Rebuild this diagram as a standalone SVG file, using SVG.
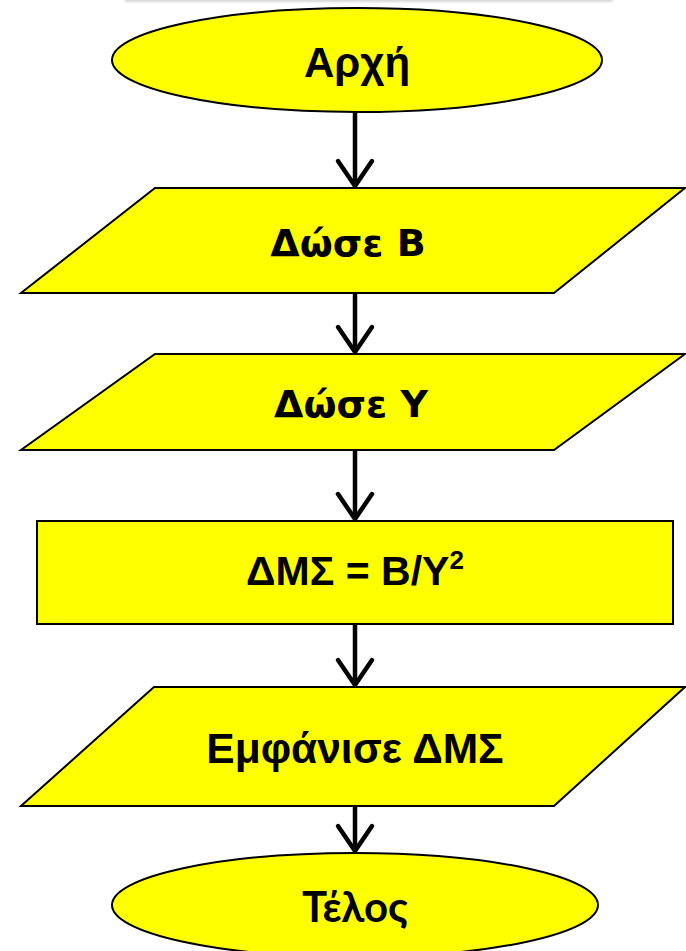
<svg xmlns="http://www.w3.org/2000/svg" width="686" height="951" viewBox="0 0 686 951">
  <style>
    .shape { fill: #ffff00; stroke: #000; stroke-width: 2; }
    .lbl { font-family: "Liberation Sans", Arial, sans-serif; font-weight: bold; fill: #000; text-anchor: middle; }
    .lbl-t { font-family: "DejaVu Sans", Tahoma, sans-serif; font-weight: bold; fill: #000; text-anchor: middle; }
    .lbl-c { font-family: Lato, "Open Sans", sans-serif; font-weight: bold; fill: #000; text-anchor: middle; }
    .flow { fill: none; stroke: #000; stroke-width: 4.5; marker-end: url(#chevron); }
  </style>
  <defs>
    <marker id="chevron" markerUnits="userSpaceOnUse" orient="auto" refX="0" refY="0" markerWidth="40" markerHeight="40" overflow="visible">
      <path d="M-25,-17 L0,0 L-25,17" fill="none" stroke="#000" stroke-width="4.5" stroke-linecap="round" stroke-linejoin="round"/>
    </marker>
    <filter id="soft" x="-5%" y="-200%" width="110%" height="500%">
      <feGaussianBlur stdDeviation="1"/>
    </filter>
  </defs>

  <rect width="686" height="951" fill="#fff"/>
  <!-- faint strip along the top edge -->
  <rect x="125" y="-2" width="488" height="4" fill="#d8d8d8" filter="url(#soft)"/>

  <g id="connectors">
    <line class="flow" x1="355" y1="113" x2="355" y2="186"/>
    <line class="flow" x1="355" y1="294" x2="355" y2="352"/>
    <line class="flow" x1="355" y1="451" x2="355" y2="519"/>
    <line class="flow" x1="355" y1="625" x2="355" y2="685"/>
    <line class="flow" x1="355" y1="807" x2="355" y2="851"/>
  </g>

  <g id="start">
    <ellipse class="shape" cx="357" cy="60" rx="245" ry="52"/>
    <text class="lbl" x="357" y="77" font-size="42">Αρχή</text>
  </g>

  <g id="input-b">
    <polygon class="shape" points="155,188 685,188 554,293 21,293"/>
    <text class="lbl-t" x="348" y="256" font-size="38">Δώσε B</text>
  </g>

  <g id="input-y">
    <polygon class="shape" points="155,354 685,354 554,450 21,450"/>
    <text class="lbl-t" x="351" y="417" font-size="38">Δώσε Y</text>
  </g>

  <g id="compute">
    <rect class="shape" x="37" y="521" width="636" height="103"/>
    <text class="lbl" x="355" y="585" font-size="41">ΔΜΣ = B/Y<tspan font-size="26" dy="-16">2</tspan></text>
  </g>

  <g id="output">
    <polygon class="shape" points="154,687 685,687 554,806 21,806"/>
    <text class="lbl" x="355" y="763" font-size="42.5">Εμφάνισε ΔΜΣ</text>
  </g>

  <g id="end">
    <ellipse class="shape" cx="355" cy="905" rx="243" ry="52"/>
    <text class="lbl-c" x="355" y="922" font-size="42">Τέλος</text>
  </g>
</svg>
